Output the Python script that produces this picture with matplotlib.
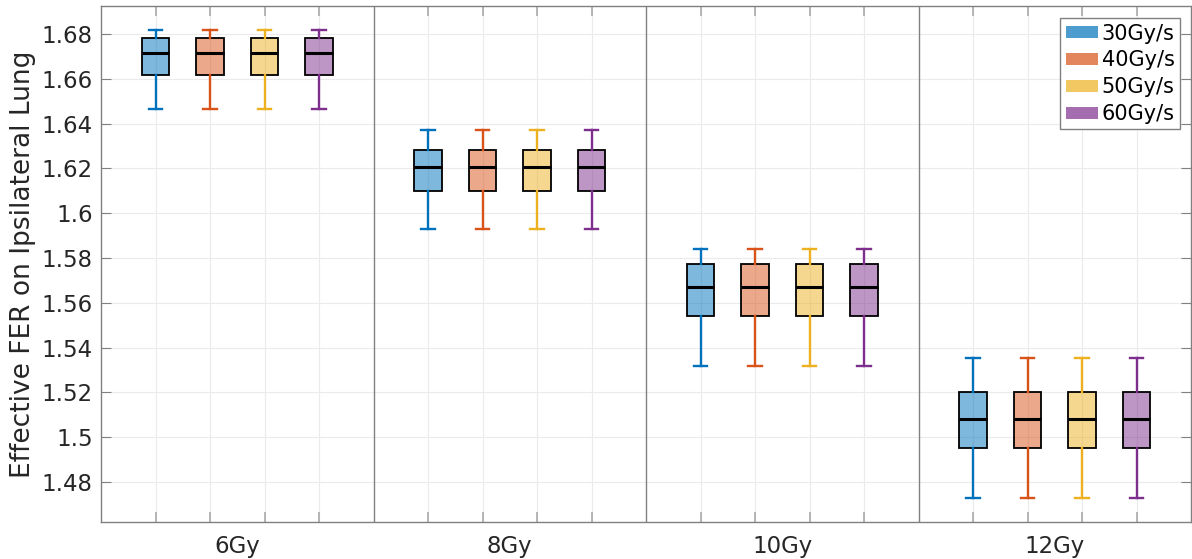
import matplotlib
matplotlib.use("Agg")
import matplotlib.pyplot as plt
import matplotlib.colors as mcolors
from matplotlib.patches import Patch
from matplotlib.ticker import FuncFormatter, FixedLocator

doses = ["6Gy", "8Gy", "10Gy", "12Gy"]
rates = ["30Gy/s", "40Gy/s", "50Gy/s", "60Gy/s"]
colors = ["#0072BD", "#D95319", "#EDB120", "#7E2F8E"]

# per-dose stats (identical for every dose rate)
whis_lo = [1.6464, 1.5929, 1.5316, 1.4729]
q1      = [1.6619, 1.6097, 1.5542, 1.4951]
median  = [1.6715, 1.6204, 1.5669, 1.5082]
q3      = [1.6781, 1.6281, 1.5775, 1.5203]
whis_hi = [1.6818, 1.6372, 1.5841, 1.5355]

plt.rcParams['font.family'] = ['DejaVu Sans']
fig = plt.figure(figsize=(11.92, 5.59), dpi=100)
ax = fig.add_axes([101/1192, 1-522/559, 1090/1192, 516/559])

txt = "#262626"
for g in range(len(doses)):
    for r in range(len(rates)):
        pos = g * 5 + r + 1
        st = dict(med=median[g], q1=q1[g], q3=q3[g], whislo=whis_lo[g],
                  whishi=whis_hi[g], fliers=[])
        fc = mcolors.to_rgba(colors[r], 0.5)
        ax.bxp([st], positions=[pos], widths=0.5, patch_artist=True,
               showfliers=False,
               boxprops=dict(facecolor=fc, edgecolor="black", linewidth=1.3),
               medianprops=dict(color="black", linewidth=2.2),
               whiskerprops=dict(color=colors[r], linewidth=1.7),
               capprops=dict(color=colors[r], linewidth=1.7),
               capwidths=0.25, zorder=3)

for s in [5, 10, 15]:
    ax.axvline(s, color="#808080", linewidth=1.0, zorder=2)

ax.set_xlim(0, 20)
ax.set_ylim(1.4621, 1.6925)
ax.set_yticks([1.48, 1.50, 1.52, 1.54, 1.56, 1.58, 1.60, 1.62, 1.64, 1.66, 1.68])
ax.yaxis.set_major_formatter(FuncFormatter(lambda v, p: f"{v:g}"))
ax.set_xticks([2.5, 7.5, 12.5, 17.5])
ax.set_xticklabels(doses)
minor_pos = [g * 5 + r + 1 for g in range(4) for r in range(4)]
ax.xaxis.set_minor_locator(FixedLocator(minor_pos))

ax.tick_params(axis='x', which='major', length=0, labelsize=16.5, colors=txt, pad=9)
ax.tick_params(axis='x', which='minor', length=7, direction='in', top=True, bottom=True,
               color="#aaaaaa", width=1.2)
ax.tick_params(axis='y', which='major', length=7, direction='in', left=True, right=True,
               labelsize=16.5, labelcolor=txt, color="#808080", pad=6)

ax.grid(which='minor', axis='x', color="#ebebeb", linewidth=0.8, zorder=0)
ax.grid(which='major', axis='y', color="#ebebeb", linewidth=0.8, zorder=0)
ax.set_axisbelow(True)
for sp in ax.spines.values():
    sp.set_color("#808080")
    sp.set_linewidth(1.0)

ax.set_ylabel("Effective FER on Ipsilateral Lung", fontsize=19, color=txt, labelpad=4)

handles = [Patch(facecolor=c, alpha=0.7, edgecolor='none') for c in colors]
leg = ax.legend(handles, rates, loc='upper right', bbox_to_anchor=(0.9899, 0.976),
                fontsize=15, frameon=True, fancybox=False, framealpha=1,
                edgecolor="#808080", handlelength=1.58, handleheight=0.48,
                handletextpad=0.16, labelspacing=0.33, borderpad=0.25, borderaxespad=0)
leg.get_frame().set_linewidth(1.0)
for t in leg.get_texts():
    t.set_color("black")

fig.savefig("out.png", dpi=100)
